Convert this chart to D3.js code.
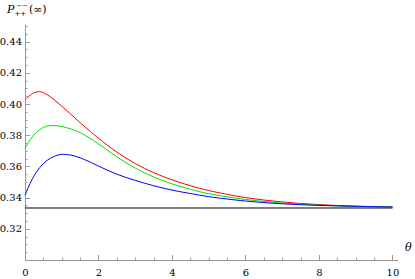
<!DOCTYPE html>
<html><head><meta charset="utf-8">
<script src="https://cdn.jsdelivr.net/npm/d3@7"></script>
<style>body{margin:0;background:#fff}svg{display:block}</style>
</head><body><svg id="c" width="415" height="279"></svg>
<script>
const thetas = [0,0.2,0.4,0.6,0.8,1,1.25,1.5,1.75,2,2.5,3,3.5,4,4.5,5,6,7,8,9,10];
const redVals = [0.4025,0.4066,0.4079,0.4060,0.4026,0.3986,0.3933,0.3880,0.3829,0.3780,0.3691,0.3618,0.3560,0.3514,0.3476,0.3445,0.3400,0.3372,0.3355,0.3345,0.3340];
const greenVals = [0.3715,0.3790,0.3835,0.3858,0.3862,0.3855,0.3840,0.3816,0.3782,0.3744,0.3661,0.3589,0.3532,0.3488,0.3453,0.3425,0.3388,0.3365,0.3351,0.3344,0.3340];
const blueVals = [0.3415,0.3520,0.3592,0.3638,0.3665,0.3677,0.3672,0.3655,0.3630,0.3602,0.3550,0.3510,0.3476,0.3448,0.3426,0.3406,0.3378,0.3360,0.3350,0.3344,0.3340];
const asymptote = 1/3;
const xTicks = [0,2,4,6,8,10];
const yTicks = [0.32,0.34,0.36,0.38,0.40,0.42,0.44];

const FONT = "'DejaVu Serif', serif";
const svg = d3.select("#c");
const x = d3.scaleLinear().domain([0,10.15]).range([25,398]);
const y = d3.scaleLinear().domain([0.30,0.4506]).range([260,25]);
const axisCol = "#999";

const xMinor = d3.range(0,10.01,0.5);
const yMinor = d3.range(0.30,0.4501,0.005);
const g = svg.append("g");
g.selectAll(".xm").data(xMinor).enter().append("line")
 .attr("x1",d=>Math.round(x(d))+0.5).attr("x2",d=>Math.round(x(d))+0.5)
 .attr("y1",260).attr("y2",d=>xTicks.includes(Math.round(d*100)/100)?255:257.5)
 .attr("stroke",axisCol).attr("stroke-width",1);
g.selectAll(".ym").data(yMinor).enter().append("line")
 .attr("y1",d=>Math.round(y(d))+0.5).attr("y2",d=>Math.round(y(d))+0.5)
 .attr("x1",25).attr("x2",d=>yTicks.some(t=>Math.abs(t-d)<1e-6)?30:27.5)
 .attr("stroke",axisCol).attr("stroke-width",1);

g.append("line").attr("x1",25).attr("x2",398).attr("y1",260.5).attr("y2",260.5).attr("stroke",axisCol);
g.append("line").attr("x1",25.5).attr("x2",25.5).attr("y1",25).attr("y2",260).attr("stroke",axisCol);

g.selectAll(".xl").data(xTicks).enter().append("text")
 .attr("x",d=>x(d)+0.5).attr("y",276).attr("text-anchor","middle")
 .style("font-family",FONT).attr("font-size",10).text(d=>d);
g.selectAll(".yl").data(yTicks).enter().append("text")
 .attr("x",22).attr("y",d=>y(d)+3.6).attr("text-anchor","end")
 .style("font-family",FONT).attr("font-size",10).text(d=>d.toFixed(2));

svg.append("line").attr("x1",x(0)).attr("x2",x(10)).attr("y1",y(asymptote)).attr("y2",y(asymptote))
 .attr("stroke","#000").attr("stroke-width",1);

const line = d3.line().x((d,i)=>x(thetas[i])).y(d=>y(d)).curve(d3.curveCatmullRom.alpha(0.5));
[[redVals,"#ff0000"],[greenVals,"#00e000"],[blueVals,"#0000ff"]].forEach(([v,c])=>{
  svg.append("path").attr("d",line(v)).attr("fill","none").attr("stroke",c).attr("stroke-width",1);
});

const yl = svg.append("text").attr("x",7).attr("y",13).attr("font-size",11).style("font-family",FONT);
yl.append("tspan").attr("font-style","italic").text("P");
yl.append("tspan").attr("font-size",7).attr("dy",3).text("++");
yl.append("tspan").attr("font-size",7).attr("dx",-10).attr("dy",-8).text("−−");
yl.append("tspan").attr("dy",5).attr("dx",1).text("(∞)");
svg.append("text").attr("x",405).attr("y",251).attr("font-size",11).style("font-family",FONT)
 .attr("font-style","italic").text("θ");
</script></body></html>
